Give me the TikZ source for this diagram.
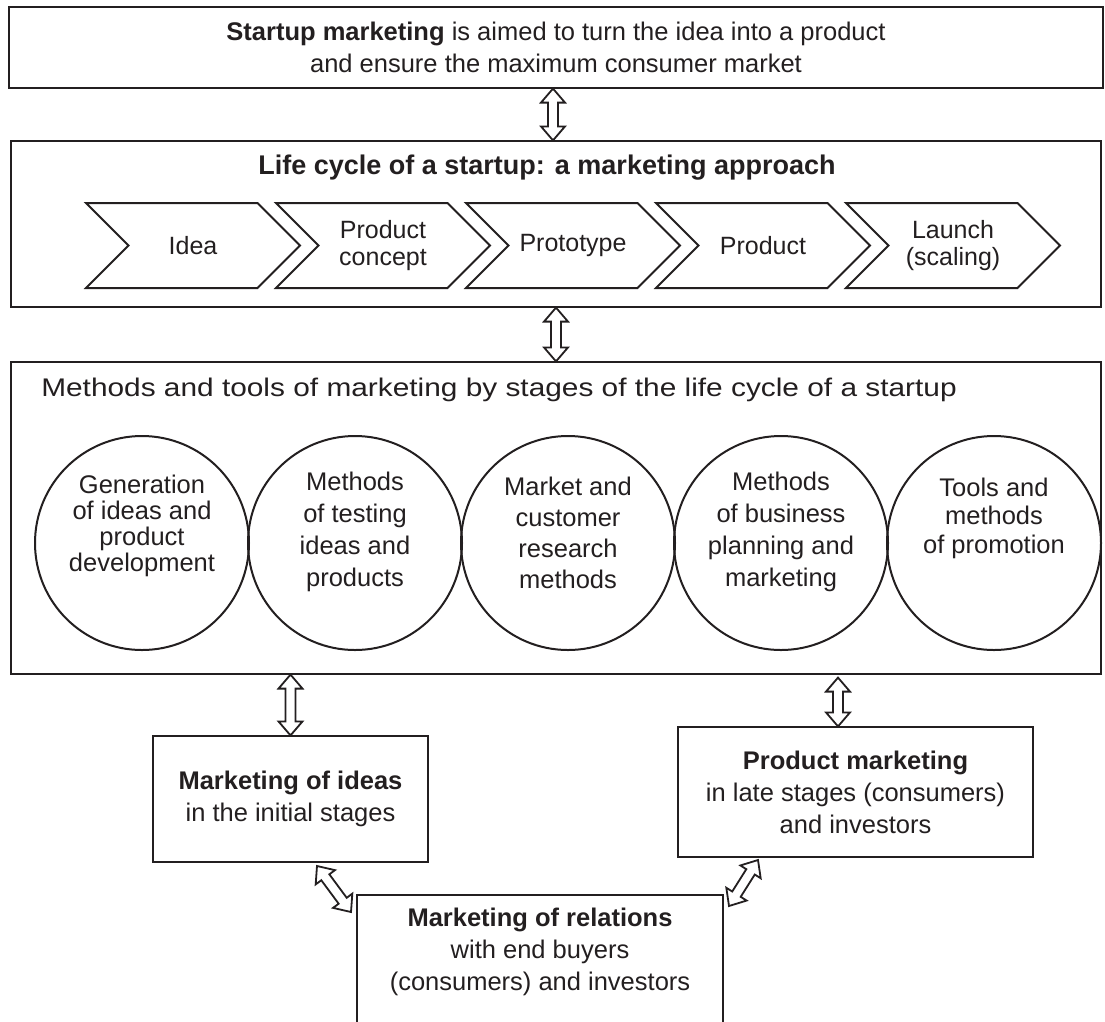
\documentclass[tikz,border=0pt]{standalone}
\usepackage{fontspec}
\setmainfont{Liberation Sans}
\usetikzlibrary{calc,shapes.symbols}
\definecolor{ink}{HTML}{231F20}
\tikzset{
  txt/.style={font=\fontsize{25.5}{32}\selectfont, text=ink, align=center, inner sep=0pt},
  box/.style={draw=ink, line width=1.2pt, rectangle, inner sep=0pt},
  chev/.style={draw=ink, line width=2pt, signal, signal from=west, signal to=east,
     signal pointer angle=90, minimum width=214, minimum height=85, inner sep=0pt,
     font=\fontsize{25}{27}\selectfont, text=ink, align=center},
  circ/.style={draw=ink, line width=2pt, circle, minimum size=214, inner sep=0pt},
  ctxt/.style={txt, font=\fontsize{25.5}{#1}\selectfont},
  arrowline/.style={draw=ink, line width=1.8pt, fill=white, line join=miter},
}
\newcommand\hollowarrow[2]{%
  \coordinate (ha1) at ($(#1)!14pt!(#2)$);
  \coordinate (ha2) at ($(#2)!14pt!(#1)$);
  \draw[arrowline] (#1) -- ($(ha1)!12pt!90:(#2)$) -- ($(ha1)!5pt!90:(#2)$)
    -- ($(ha2)!5pt!-90:(#1)$) -- ($(ha2)!12pt!-90:(#1)$) -- (#2)
    -- ($(ha2)!12pt!90:(#1)$) -- ($(ha2)!5pt!90:(#1)$)
    -- ($(ha1)!5pt!-90:(#2)$) -- ($(ha1)!12pt!-90:(#2)$) -- cycle;
}
\begin{document}
\begin{tikzpicture}[x=1pt,y=-1pt]
\useasboundingbox (0,0) rectangle (1105,1021);
\fill[white] (0,0) rectangle (1105,1021);
% boxes
\node[box, txt, minimum width=1094, minimum height=81] (top) at (556,47.5)
  {\textbf{Startup marketing} is aimed to turn the idea into a product\\and ensure the maximum consumer market};
\node[box, minimum width=1090, minimum height=166] (lc) at (556,224) {};
\node[txt, font=\fontsize{27}{32}\selectfont] (lctitle) at (547,168) {\textbf{Life cycle of a startup: a marketing approach}};
\node[box, minimum width=1090, minimum height=312] (meth) at (556,518) {};
\node[txt] (methtitle) at (499,390) {\scalebox{1.17}[1]{Methods and tools of marketing by stages of the life cycle of a startup}};
% chevrons
\node[chev] (s1) at (193,245.5) {Idea};
\node[chev] (s2) at (383,245.5) {Product\\concept};
\node[chev] (s3) at (573,245.5) {Prototype};
\node[chev] (s4) at (763,245.5) {Product};
\node[chev] (s5) at (953,245.5) {Launch\\(scaling)};
% circles
\node[circ] (c1) at (142,543) {};
\node[circ] (c2) at (355,543) {};
\node[circ] (c3) at (568,543) {};
\node[circ] (c4) at (781,543) {};
\node[circ] (c5) at (994,543) {};
\node[ctxt=26] (t1) at ([yshift=17pt]c1.center) {Generation\\of ideas and\\product\\development};
\node[ctxt=32] (t2) at ([yshift=11pt]c2.center) {Methods\\of testing\\ideas and\\products};
\node[ctxt=31] (t3) at ([yshift=10pt]c3.center) {Market and\\customer\\research\\methods};
\node[ctxt=32] (t4) at ([yshift=11pt]c4.center) {Methods\\of business\\planning and\\marketing};
\node[ctxt=28.5] (t5) at ([yshift=25pt]c5.center) {Tools and\\methods\\of promotion};
% lower boxes
\node[box, txt, minimum width=275, minimum height=126] (ideas) at (290.5,799)
  {\textbf{Marketing of ideas}\\in the initial stages};
\node[box, txt, minimum width=355, minimum height=130] (prod) at (855.5,792)
  {\textbf{Product marketing}\\in late stages (consumers)\\and investors};
\node[box, minimum width=366, minimum height=140] (rel) at (540,965) {};
\node[txt] (reltext) at (540,952) {\textbf{Marketing of relations}\\with end buyers\\(consumers) and investors};
% arrow end points
\coordinate (a1t) at ([xshift=-3pt]top.south);
\coordinate (a1b) at ([xshift=-3pt]lc.north);
\coordinate (a3b) at (ideas.north);
\coordinate (a3t) at (ideas.north |- meth.south);
\coordinate (a4b) at ([xshift=-17.5pt]prod.north);
\coordinate (a4t) at ([yshift=-3pt]a4b |- meth.south);
\coordinate (a5t) at (317,866);
\coordinate (a5b) at (351,912);
\coordinate (a6t) at (758,860);
\coordinate (a6b) at (729,906);
% arrows
\hollowarrow{a1t}{a1b}
\hollowarrow{lc.south}{meth.north}
\hollowarrow{a3t}{a3b}
\hollowarrow{a4t}{a4b}
\hollowarrow{a5t}{a5b}
\hollowarrow{a6t}{a6b}
\end{tikzpicture}
\end{document}
